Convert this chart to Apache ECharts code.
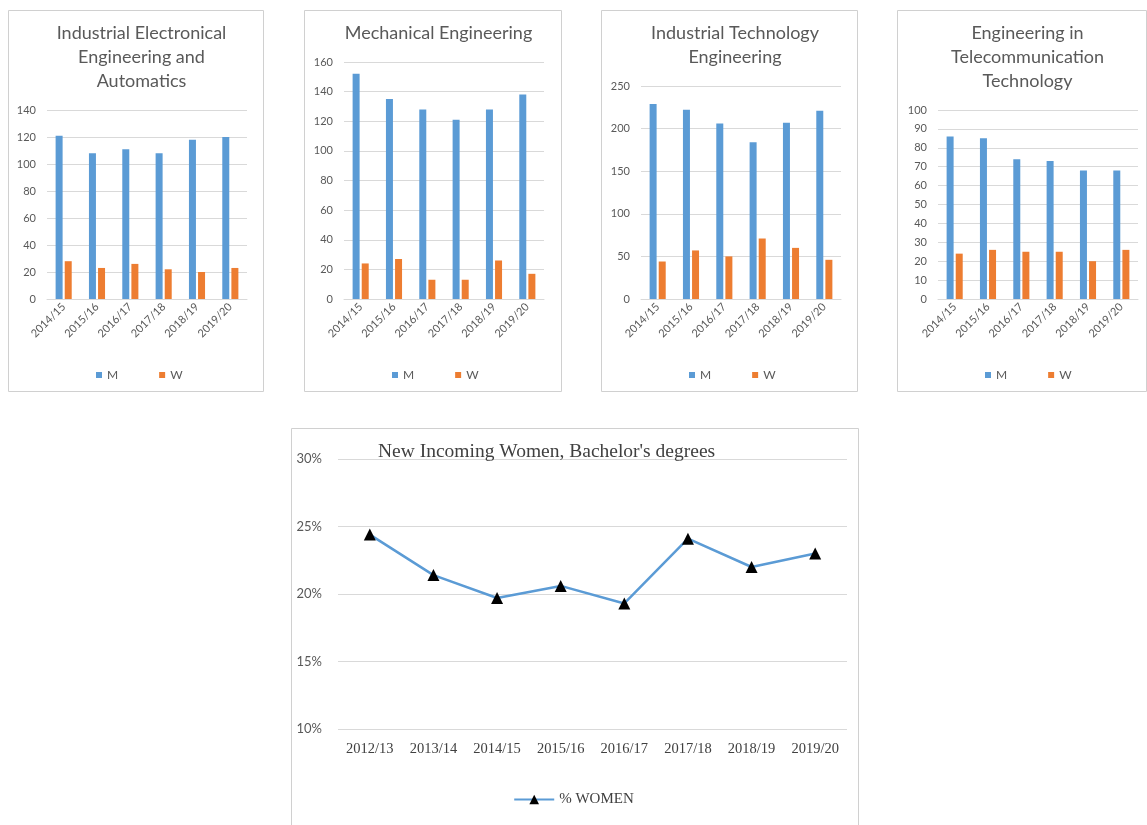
<!DOCTYPE html>
<html>
<head>
<meta charset="utf-8">
<script src="https://cdn.jsdelivr.net/npm/echarts@6/dist/echarts.min.js"></script>
<style>
html,body{margin:0;padding:0;background:#fff;}
#main{width:1147px;height:825px;}
</style>
</head>
<body>
<div id="main"></div>
<script>
// ---- data ----
const years = ['2014/15', '2015/16', '2016/17', '2017/18', '2018/19', '2019/20'];
const panelTitles = [
  'Industrial Electronical\nEngineering and\nAutomatics',
  'Mechanical Engineering',
  'Industrial Technology\nEngineering',
  'Engineering in\nTelecommunication\nTechnology'
];
const ieeaM = [121, 108, 111, 108, 118, 120];
const ieeaW = [28, 23, 26, 22, 20, 23];
const meM = [152, 135, 128, 121, 128, 138];
const meW = [24, 27, 13, 13, 26, 17];
const iteM = [229, 222, 206, 184, 207, 221];
const iteW = [44, 57, 50, 71, 60, 46];
const ettM = [86, 85, 74, 73, 68, 68];
const ettW = [24, 26, 25, 25, 20, 26];
const yMax = [140, 160, 250, 100];
const yStep = [20, 20, 50, 10];

const lineYears = ['2012/13', '2013/14', '2014/15', '2015/16', '2016/17', '2017/18', '2018/19', '2019/20'];
const pctWomen = [24.4, 21.4, 19.7, 20.6, 19.3, 24.1, 22.0, 23.0];
const pctMin = 10, pctMax = 30, pctStep = 5;
const lineTitle = "New Incoming Women, Bachelor's degrees";
const lineName = '% WOMEN';

// ---- layout ----
const mSeries = [ieeaM, meM, iteM, ettM];
const wSeries = [ieeaW, meW, iteW, ettW];
const boxes = [
  {x: 8, y: 10, w: 255, h: 381},
  {x: 304, y: 10, w: 257, h: 381},
  {x: 601, y: 10, w: 256, h: 381},
  {x: 897, y: 10, w: 249, h: 381}
];
const grids = [
  {left: 47, top: 110, width: 200, height: 189},
  {left: 344, top: 62, width: 200, height: 237},
  {left: 641, top: 86, width: 200, height: 213},
  {left: 938, top: 110, width: 200, height: 189}
];
const blue = '#5B9BD5', orange = '#ED7D31', grey = '#595959', gridC = '#D9D9D9';
const sans = 'Lato, "Open Sans", sans-serif';
const serif = '"Liberation Serif", "DejaVu Serif", serif';

const option = {
  animation: false,
  backgroundColor: '#fff',
  title: [],
  legend: [],
  grid: [],
  xAxis: [],
  yAxis: [],
  series: [],
  graphic: []
};

for (let i = 0; i < 4; i++) {
  const b = boxes[i];
  option.graphic.push({
    type: 'rect', silent: true, z: -1,
    shape: {x: b.x + 0.5, y: b.y + 0.5, width: b.w, height: b.h},
    style: {fill: '#fff', stroke: '#D0D0D0', lineWidth: 1}
  });
  option.title.push({
    text: panelTitles[i], left: b.x + b.w / 2 + 1, top: 16, textAlign: 'center',
    textStyle: {fontFamily: sans, fontSize: 18, fontWeight: 'normal', color: grey, lineHeight: 24}
  });
  option.legend.push({
    data: ['M', 'W'], left: b.x + 83, top: 364, itemWidth: 6, itemHeight: 6, itemGap: 41,
    icon: 'rect', textStyle: {fontFamily: sans, fontSize: 12, color: grey}
  });
  option.grid.push(Object.assign({containLabel: false}, grids[i]));
  option.xAxis.push({
    type: 'category', gridIndex: i, data: years,
    axisTick: {show: false},
    axisLine: {lineStyle: {color: gridC}},
    axisLabel: {rotate: 45, interval: 0, fontFamily: sans, fontSize: 11, color: grey, margin: 6}
  });
  option.yAxis.push({
    type: 'value', gridIndex: i, min: 0, max: yMax[i], interval: yStep[i],
    axisLine: {show: false}, axisTick: {show: false},
    splitLine: {lineStyle: {color: gridC}},
    axisLabel: {fontFamily: sans, fontSize: 11, color: grey, margin: 11}
  });
  option.series.push({
    type: 'bar', name: 'M', xAxisIndex: i, yAxisIndex: i, data: mSeries[i],
    barWidth: 7, barGap: '30%', itemStyle: {color: blue}
  });
  option.series.push({
    type: 'bar', name: 'W', xAxisIndex: i, yAxisIndex: i, data: wSeries[i],
    barWidth: 7, barGap: '30%', itemStyle: {color: orange}
  });
}

// line chart
option.graphic.push({
  type: 'rect', silent: true, z: -1,
  shape: {x: 291.5, y: 428.5, width: 567, height: 410},
  style: {fill: '#fff', stroke: '#D0D0D0', lineWidth: 1}
});
option.title.push({
  text: lineTitle, left: 373, top: 437,
  textStyle: {fontFamily: serif, fontSize: 19.5, fontWeight: 'normal', color: '#404040'}
});
option.legend.push({
  data: [lineName], left: 'center', top: 787, itemWidth: 40, itemHeight: 12, itemGap: 10,
  textStyle: {fontFamily: serif, fontSize: 15, color: '#404040'}
});
option.grid.push({left: 338, top: 459, width: 509, height: 270});
option.xAxis.push({
  type: 'category', gridIndex: 4, data: lineYears,
  axisTick: {show: false}, axisLine: {show: false},
  axisLabel: {fontFamily: serif, fontSize: 14.5, color: '#404040', margin: 13, interval: 0}
});
option.yAxis.push({
  type: 'value', gridIndex: 4, min: pctMin, max: pctMax, interval: pctStep,
  axisLine: {show: false}, axisTick: {show: false},
  splitLine: {lineStyle: {color: gridC}},
  axisLabel: {formatter: '{value}%', fontFamily: sans, fontSize: 13, color: grey, margin: 16}
});
option.series.push({
  type: 'line', name: lineName, xAxisIndex: 4, yAxisIndex: 4, data: pctWomen,
  symbol: 'triangle', symbolSize: 12,
  lineStyle: {color: blue, width: 2.5},
  itemStyle: {color: '#000'}
});

const chart = echarts.init(document.getElementById('main'), null, {renderer: 'canvas'});
chart.setOption(option);
</script>
</body>
</html>
